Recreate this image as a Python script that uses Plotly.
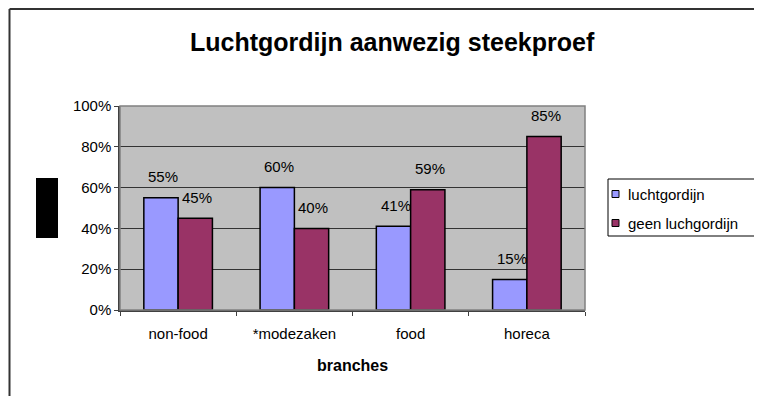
import plotly.graph_objects as go

categories = ["non-food", "*modezaken", "food", "horeca"]
luchtgordijn = [55, 60, 41, 15]
geen_luchgordijn = [45, 40, 59, 85]
series_names = ["luchtgordijn", "geen luchgordijn"]
y_ticks = [0, 20, 40, 60, 80, 100]
y_tick_labels = ["0%", "20%", "40%", "60%", "80%", "100%"]

FONT = "Liberation Sans, Arial, sans-serif"
colors = ["#9999FF", "#993366"]

# page layout (browser body has an 8px margin): plot area page x 120..585, y 106..310
def px(xp):
    return (xp - 120) / 465

def py(yp):
    return (310 - yp) / 204

fig = go.Figure()
for i, (name, vals, col) in enumerate(zip(series_names, [luchtgordijn, geen_luchgordijn], colors)):
    fig.add_trace(go.Bar(
        x=categories, y=vals, name=name, showlegend=False,
        marker=dict(color=col, line=dict(color="#000000", width=1.5)),
        hoverinfo="skip",
    ))

annotations = []
for vals, xs in [(luchtgordijn, -17), (geen_luchgordijn, 17)]:
    for c, v in zip(categories, vals):
        annotations.append(dict(
            x=c, y=v, xref="x", yref="y", text=f"{v}%", showarrow=False,
            xshift=xs + 2, yshift=21, yanchor="middle",
            font=dict(family=FONT, size=15, color="#000000"),
        ))
annotations.append(dict(
    text="<b>Luchtgordijn aanwezig steekproef</b>", xref="paper", yref="paper",
    x=px(392), y=py(42), xanchor="center", yanchor="middle",
    showarrow=False, font=dict(family=FONT, size=25, color="#000000")))
annotations.append(dict(
    text="<b>branches</b>", xref="paper", yref="paper",
    x=px(352), y=py(365), xanchor="center", yanchor="middle",
    showarrow=False, font=dict(family=FONT, size=16, color="#000000")))

shapes = [
    dict(type="rect", xref="paper", yref="paper", x0=0, x1=1, y0=0, y1=1,
         line=dict(color="#808080", width=1.5), layer="above"),
    dict(type="line", xref="paper", yref="paper",
         x0=px(9.5), x1=px(800), y0=py(9), y1=py(9),
         line=dict(color="#333333", width=2)),
    dict(type="line", xref="paper", yref="paper",
         x0=px(9.5), x1=px(9.5), y0=py(9), y1=py(420),
         line=dict(color="#333333", width=2)),
    dict(type="rect", xref="paper", yref="paper",
         x0=px(36), x1=px(58), y0=py(238), y1=py(178),
         fillcolor="#000000", line=dict(width=0)),
    # legend box
    dict(type="rect", xref="paper", yref="paper",
         x0=px(608), x1=px(790), y0=py(236), y1=py(179),
         fillcolor="#FFFFFF", line=dict(color="#000000", width=1)),
]

# legend entries
for k, (name, col) in enumerate(zip(series_names, colors)):
    yc = 194 + 29 * k
    shapes.append(dict(
        type="rect", xref="paper", yref="paper",
        x0=px(612), x1=px(619), y0=py(yc + 3.5), y1=py(yc - 3.5),
        fillcolor=col, line=dict(color="#000000", width=1)))
    annotations.append(dict(
        text=name, xref="paper", yref="paper", x=px(626), y=py(yc),
        xanchor="left", yanchor="middle", showarrow=False,
        font=dict(family=FONT, size=15, color="#000000")))

fig.update_layout(
    width=754, height=388,
    margin=dict(l=112, r=177, t=98, b=86, autoexpand=False),
    paper_bgcolor="#FFFFFF",
    plot_bgcolor="#C0C0C0",
    barmode="group", bargap=0.41, bargroupgap=0,
    showlegend=False,
    font=dict(family=FONT, size=15, color="#000000"),
    xaxis=dict(
        showline=True, linecolor="#404040", linewidth=1.5,
        ticks="outside", tickson="boundaries", ticklen=4, tickcolor="#404040",
        tickfont=dict(family=FONT, size=15, color="#000000"),
        ticklabelstandoff=9, showgrid=False,
    ),
    yaxis=dict(
        range=[0, 100], tickvals=y_ticks, ticktext=y_tick_labels,
        showline=True, linecolor="#404040", linewidth=1.5,
        ticks="outside", ticklen=4, tickcolor="#404040",
        tickfont=dict(family=FONT, size=15, color="#000000"),
        showgrid=True, gridcolor="#333333", gridwidth=1, zeroline=False,
    ),
    shapes=shapes,
    annotations=annotations,
)

fig.write_html("out.html")
